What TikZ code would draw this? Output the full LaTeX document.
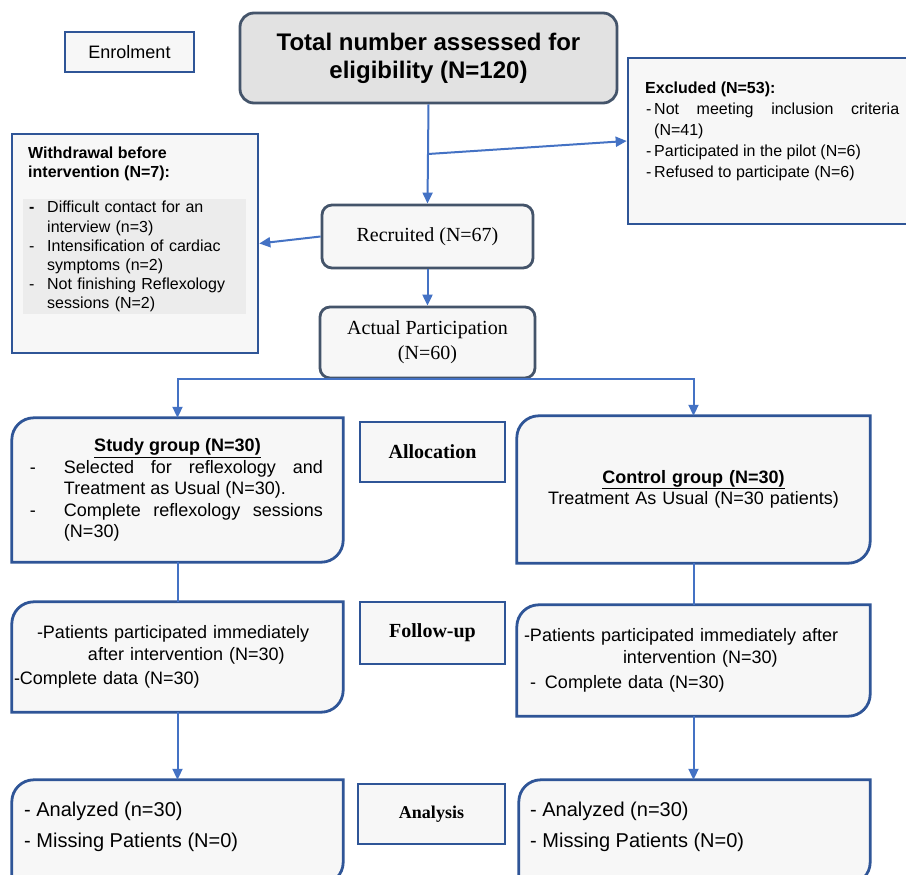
\documentclass[tikz,border=0pt]{standalone}
\usepackage{fontspec}
\setmainfont{Liberation Sans}
\newfontfamily\timesfont{Liberation Serif}
\usepackage{xcolor}
\usepackage{tikz}
\usetikzlibrary{arrows.meta, positioning, calc, backgrounds}
\definecolor{flowBlue}{HTML}{4472C4}
\definecolor{frameBlue}{HTML}{2F5597}
\definecolor{frameSlate}{HTML}{44546A}
\definecolor{paleFill}{HTML}{F7F7F7}
\definecolor{titleFill}{HTML}{E2E2E2}
\definecolor{listShade}{HTML}{ECECEC}

\begin{document}
\begin{tikzpicture}[
    x=1pt, y=-1pt,
    phase/.style={draw=frameBlue, line width=2.6pt, fill=paleFill, inner sep=0pt,
                  font=\timesfont\fontsize{20}{24}\selectfont\bfseries},
    countbox/.style={draw=frameSlate, line width=2.8pt, fill=paleFill, rounded corners=10pt,
                     inner sep=0pt, align=center, font=\timesfont\fontsize{20}{25}\selectfont},
    note/.style={draw=frameBlue, line width=2.6pt, fill=paleFill, inner sep=0pt},
    group/.style={inner sep=0pt, font=\fontsize{18}{21.5}\selectfont},
    groupframe/.style={draw=frameBlue, line width=2.8pt, fill=paleFill},
    arrow/.style={-{Triangle[length=11pt, width=10pt]}, flowBlue, line width=2pt},
    link/.style={flowBlue, line width=2pt},
]
\clip (0,0) rectangle (906,875);

% Enrolment
\node[phase, font=\fontsize{18}{21}\selectfont, minimum width=129pt, minimum height=40pt]
    (enrol) at (129.5,52) {Enrolment};
\node[countbox, fill=titleFill, rounded corners=14pt, minimum width=377pt, minimum height=90pt,
      font=\fontsize{24}{28}\selectfont\bfseries]
    (total) at (428.5,58) {Total number assessed for\\eligibility (N=120)};

% Excluded
\node[note, minimum width=290pt, minimum height=166pt] (excl) at (773,141) {};
\node[anchor=north west, inner sep=0pt, text width=254pt, align=justify,
      font=\fontsize{16}{21}\selectfont] (exclText) at (645,82)
    {\textbf{Excluded (N=53):}\par
     \hangindent=9pt\hangafter=1\makebox[9pt][l]{\hspace{1pt}-}Not meeting inclusion criteria\linebreak (N=41)\par
     \hangindent=9pt\hangafter=1\makebox[9pt][l]{\hspace{1pt}-}Participated in the pilot (N=6)\par
     \hangindent=9pt\hangafter=1\makebox[9pt][l]{\hspace{1pt}-}Refused to participate (N=6)\par};

\node[countbox, minimum width=211pt, minimum height=63pt] (recr) at (427.5,236.5) {Recruited (N=67)};
\node[countbox, minimum width=215pt, minimum height=71pt] (actual) at (427.5,342.5)
    {Actual Participation\\(N=60)};

% Withdrawal
\node[note, minimum width=246pt, minimum height=219pt] (wd) at (135,243.5) {};
\node[anchor=north west, inner sep=0pt, align=left, font=\fontsize{16}{19}\selectfont\bfseries]
    (wdHead) at (28,147) {Withdrawal before\\intervention (N=7):};
\node[anchor=north west, fill=listShade, inner sep=0pt, text width=223pt, minimum height=115pt,
      align=left, font=\fontsize{16}{19.2}\selectfont] (wdList) at (23,199)
    {\hangindent=24pt\hangafter=1\makebox[24pt][l]{\hspace{6pt}\textbf{-}}Difficult contact for an\newline interview (n=3)\par
     \hangindent=24pt\hangafter=1\makebox[24pt][l]{\hspace{6pt}-}Intensification of cardiac\newline symptoms (n=2)\par
     \hangindent=24pt\hangafter=1\makebox[24pt][l]{\hspace{6pt}-}Not finishing Reflexology\newline sessions (N=2)\par};

% Allocation
\node[group, text width=291pt, align=justify, minimum width=331pt, minimum height=144pt]
    (study) at (177.5,490)
    {{\centering\textbf{\underline{Study group (N=30)}}\par}
     \hangindent=32pt\hangafter=1\makebox[32pt][l]{\hspace*{-2pt}-}Selected for reflexology and\linebreak Treatment as Usual (N=30).\par
     \hangindent=32pt\hangafter=1\makebox[32pt][l]{\hspace*{-2pt}-}Complete reflexology sessions (N=30)\par};
\node[phase, minimum width=145pt, minimum height=60pt] (alloc) at (432.5,452) {Allocation};
\node[group, text width=353pt, align=center, minimum width=353pt, minimum height=147pt]
    (ctrl) at (693.5,489.5)
    {\textbf{\underline{Control group (N=30)}}\\Treatment As Usual (N=30 patients)};

% Follow-up
\node[group, text width=331pt, align=left, minimum width=331pt, minimum height=110pt]
    (fLeft) at (177.5,657)
    {\hspace*{25pt}-Patients participated immediately\\
     \hspace*{76pt}after intervention (N=30)\\[3pt]
     \hspace*{2pt}-Complete data (N=30)};
\node[phase, minimum width=145pt, minimum height=62pt] (follow) at (432.5,633) {Follow-up};
\node[group, text width=353pt, align=left, minimum width=353pt, minimum height=111pt]
    (fRight) at (693.5,660.5)
    {\hspace*{7pt}-Patients participated immediately after\\
     \hspace*{106pt}intervention (N=30)\\[4pt]
     \hspace*{13pt}-\hspace*{9pt}Complete data (N=30)};

% Analysis
\node[group, minimum width=331pt, minimum height=104pt] (aLeft) at (177.5,832) {};
\node[phase, font=\timesfont\fontsize{18}{22}\selectfont\bfseries, minimum width=147pt, minimum height=60pt]
    (analysis) at (431.5,814) {Analysis};
\node[group, minimum width=351pt, minimum height=104pt] (aRight) at (694.5,832) {};
\node[anchor=west, inner sep=0pt, align=left, font=\fontsize{20}{31}\selectfont]
    (aLeftText) at (24,826.5) {- Analyzed (n=30)\\- Missing Patients (N=0)};
\node[anchor=west, inner sep=0pt, align=left, font=\fontsize{20}{31}\selectfont]
    (aRightText) at (530,826.5) {- Analyzed (n=30)\\- Missing Patients (N=0)};

\begin{scope}[on background layer]
\fill[white] (0,0) rectangle (906,875);
\foreach \g in {study,ctrl,fLeft,fRight,aLeft,aRight}
    \draw[groupframe] ([yshift=-22pt]\g.north west) arc[start angle=180, end angle=90, radius=22pt]
        -- (\g.north east) -- ([yshift=22pt]\g.south east)
        arc[start angle=0, end angle=-90, radius=22pt] -- (\g.south west) -- cycle;
\end{scope}

% Connectors
\coordinate (exclFork) at ($(total.south)!0.5!(recr.north)$);
\draw[arrow] (total.south) -- (recr.north);
\draw[arrow] (exclFork) -- (excl.west);
\draw[arrow] (recr.west) -- (wd.east);
\draw[arrow] (recr.south) -- (actual.north);
\draw[arrow] (actual.south) -| (study.north);
\draw[arrow] (actual.south) -| (ctrl.north);
\draw[link] (study.south) -- (fLeft.north);
\draw[link] (ctrl.south) -- (fRight.north);
\draw[arrow] (fLeft.south) -- (fLeft.south |- aLeft.north);
\draw[arrow] (fRight.south) -- (fRight.south |- aRight.north);
\end{tikzpicture}
\end{document}
